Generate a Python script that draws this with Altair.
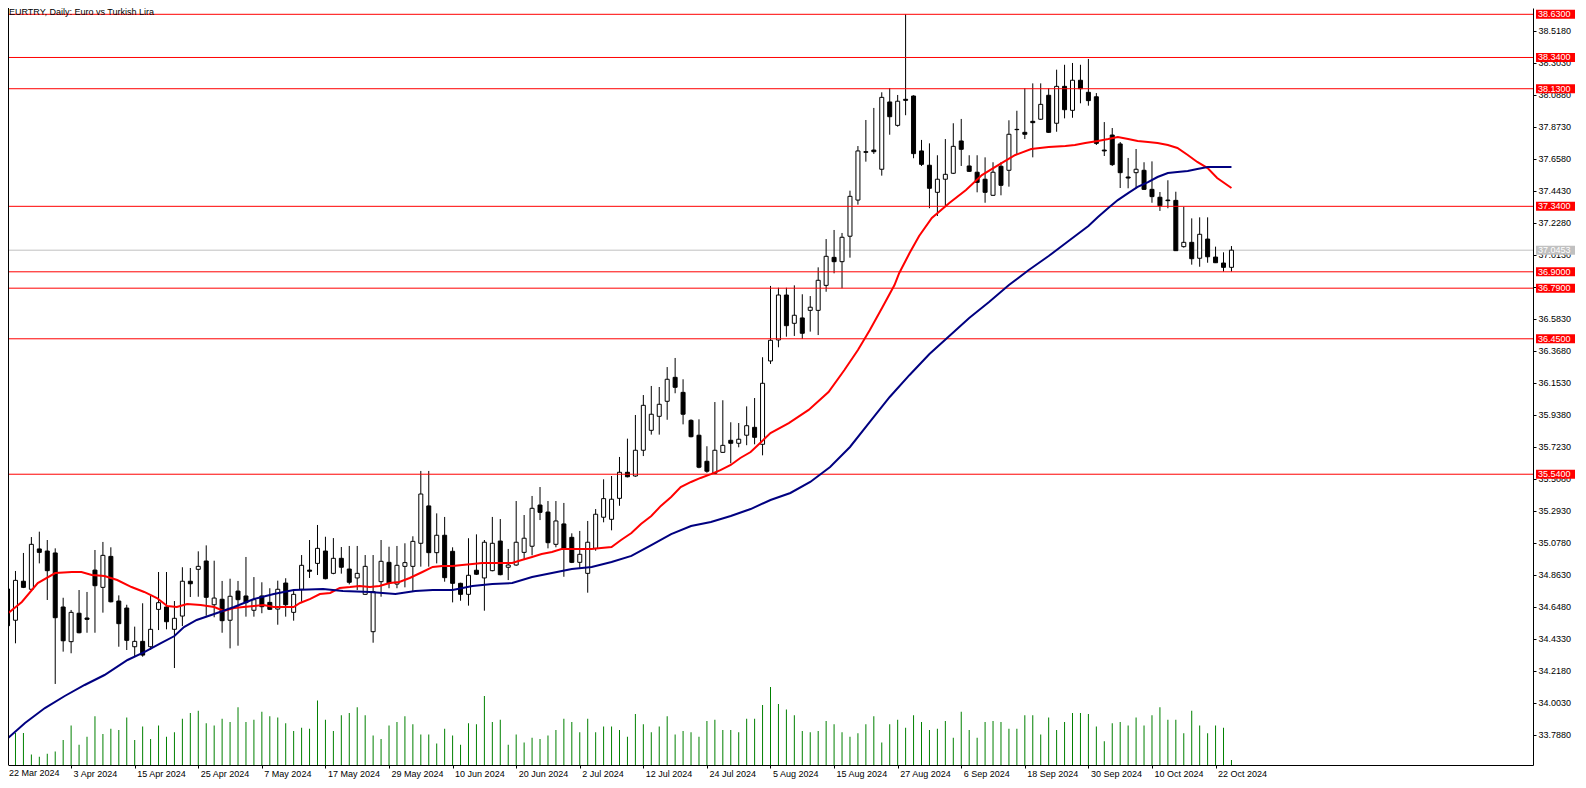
import altair as alt
import pandas as pd

symbol_title = "EURTRY, Daily:  Euro vs Turkish Lira"

date_labels = ["22 Mar 2024", "3 Apr 2024", "15 Apr 2024", "25 Apr 2024", "7 May 2024",
               "17 May 2024", "29 May 2024", "10 Jun 2024", "20 Jun 2024", "2 Jul 2024",
               "12 Jul 2024", "24 Jul 2024", "5 Aug 2024", "15 Aug 2024", "27 Aug 2024",
               "6 Sep 2024", "18 Sep 2024", "30 Sep 2024", "10 Oct 2024", "22 Oct 2024"]
date_bars = [0, 8, 16, 24, 32, 40, 48, 56, 64, 72, 80, 88, 96, 104, 112, 120, 128, 136, 144, 152]

opens = [34.769, 34.559, 34.821, 34.767, 35.038, 35.024, 35.011, 34.648, 34.415, 34.606,
         34.574, 34.896, 34.780, 34.988, 34.688, 34.641, 34.381, 34.417, 34.381, 34.632,
         34.648, 34.498, 34.587, 34.821, 34.901, 34.957, 34.663, 34.700, 34.559, 34.755,
         34.722, 34.626, 34.722, 34.679, 34.634, 34.809, 34.612, 34.767, 34.896, 34.941,
         35.024, 34.874, 34.975, 34.903, 34.843, 34.733, 34.482, 34.818, 34.948, 34.802,
         34.921, 34.921, 35.076, 35.327, 35.013, 35.130, 35.022, 34.807, 34.733, 34.895,
         34.843, 34.892, 35.091, 34.915, 34.930, 35.015, 35.056, 35.333, 35.286, 35.069,
         35.206, 35.116, 34.948, 34.874, 35.042, 35.251, 35.237, 35.378, 35.553, 35.528,
         35.701, 35.835, 35.929, 36.030, 36.191, 36.090, 35.902, 35.802, 35.627, 35.546,
         35.687, 35.768, 35.748, 35.802, 35.855, 35.741, 36.301, 36.442, 36.744, 36.554,
         36.590, 36.641, 36.641, 36.809, 36.997, 36.968, 37.139, 37.382, 37.707, 37.718,
         37.589, 38.041, 37.884, 38.059, 38.081, 37.712, 37.616, 37.434, 37.522, 37.562,
         37.779, 37.611, 37.569, 37.522, 37.414, 37.609, 37.582, 37.857, 37.837, 37.911,
         37.925, 38.086, 37.898, 38.146, 37.985, 38.187, 38.106, 38.076, 37.718, 37.819,
         37.759, 37.537, 37.566, 37.582, 37.454, 37.401, 37.382, 37.380, 37.069, 37.098,
         36.991, 37.120, 36.999, 36.959, 36.930]
highs = [34.784, 34.890, 35.011, 35.118, 35.154, 35.098, 35.042, 34.710, 34.628, 34.762,
         34.749, 35.031, 35.085, 35.049, 34.726, 34.663, 34.516, 34.673, 34.724, 34.883,
         34.883, 34.688, 34.915, 34.910, 35.022, 35.062, 34.959, 34.823, 34.838, 34.823,
         34.984, 34.849, 34.814, 34.774, 34.825, 34.841, 34.755, 34.997, 35.098, 35.199,
         35.120, 35.111, 35.051, 35.058, 35.058, 34.997, 34.997, 35.098, 35.053, 35.058,
         35.076, 35.123, 35.562, 35.562, 35.277, 35.253, 35.049, 34.811, 35.110, 35.136,
         35.098, 35.253, 35.239, 35.038, 35.360, 35.266, 35.394, 35.454, 35.360, 35.360,
         35.347, 35.143, 35.159, 35.226, 35.306, 35.506, 35.528, 35.656, 35.779, 35.938,
         36.072, 36.133, 36.126, 36.260, 36.321, 36.178, 35.909, 35.909, 35.728, 36.025,
         36.037, 35.889, 35.884, 35.996, 36.052, 36.326, 36.805, 36.793, 36.793, 36.809,
         36.749, 36.737, 36.930, 37.120, 37.181, 37.161, 37.445, 37.745, 37.920, 38.001,
         38.106, 38.135, 38.088, 38.630, 38.086, 37.786, 37.763, 37.683, 37.792, 37.898,
         37.927, 37.683, 37.683, 37.669, 37.636, 37.636, 37.918, 37.982, 38.133, 38.166,
         38.166, 38.133, 38.258, 38.291, 38.303, 38.291, 38.330, 38.101, 37.906, 37.866,
         37.772, 37.665, 37.725, 37.636, 37.642, 37.436, 37.515, 37.438, 37.337, 37.259,
         37.266, 37.266, 37.069, 37.031, 37.073]
lows = [34.507, 34.404, 34.775, 34.762, 34.941, 34.695, 34.131, 34.348, 34.337, 34.471,
        34.475, 34.475, 34.610, 34.679, 34.381, 34.359, 34.314, 34.314, 34.359, 34.493,
        34.498, 34.238, 34.520, 34.715, 34.717, 34.589, 34.579, 34.475, 34.370, 34.388,
        34.583, 34.583, 34.606, 34.628, 34.529, 34.583, 34.556, 34.683, 34.843, 34.863,
        34.834, 34.868, 34.872, 34.800, 34.762, 34.730, 34.408, 34.717, 34.774, 34.774,
        34.780, 34.755, 34.919, 34.919, 34.941, 34.818, 34.679, 34.690, 34.657, 34.863,
        34.623, 34.888, 34.861, 34.829, 34.925, 34.964, 34.995, 35.232, 35.042, 35.049,
        34.851, 34.943, 34.910, 34.744, 35.026, 35.217, 35.163, 35.328, 35.519, 35.523,
        35.662, 35.806, 35.806, 35.906, 36.084, 35.875, 35.788, 35.580, 35.550, 35.542,
        35.684, 35.613, 35.721, 35.735, 35.741, 35.667, 36.281, 36.393, 36.464, 36.469,
        36.449, 36.498, 36.475, 36.766, 36.890, 36.789, 36.995, 37.351, 37.640, 37.692,
        37.546, 37.821, 37.875, 37.952, 37.663, 37.611, 37.327, 37.275, 37.337, 37.557,
        37.611, 37.571, 37.434, 37.364, 37.410, 37.414, 37.472, 37.692, 37.792, 37.669,
        37.920, 37.833, 37.841, 37.931, 37.935, 38.032, 38.016, 37.752, 37.678, 37.611,
        37.463, 37.461, 37.461, 37.450, 37.364, 37.309, 37.327, 37.040, 37.062, 36.948,
        36.934, 36.961, 36.959, 36.901, 36.901]
closes = [34.522, 34.827, 34.780, 35.069, 35.015, 34.892, 34.576, 34.421, 34.612, 34.475,
          34.565, 34.791, 34.995, 34.683, 34.536, 34.424, 34.417, 34.325, 34.498, 34.677,
          34.549, 34.572, 34.821, 34.804, 34.921, 34.713, 34.708, 34.556, 34.720, 34.697,
          34.677, 34.697, 34.650, 34.632, 34.767, 34.663, 34.733, 34.928, 34.888, 35.042,
          34.838, 34.975, 34.915, 34.814, 34.874, 34.921, 34.751, 34.955, 34.807, 34.928,
          34.946, 35.089, 35.407, 35.013, 35.130, 34.845, 34.807, 34.733, 34.861, 34.868,
          35.083, 35.076, 34.865, 34.930, 35.083, 35.110, 35.311, 35.284, 35.080, 35.226,
          35.038, 34.948, 35.002, 35.083, 35.271, 35.376, 35.372, 35.553, 35.523, 35.701,
          36.003, 35.943, 36.010, 36.178, 36.124, 35.943, 35.792, 35.587, 35.560, 35.701,
          35.734, 35.748, 35.775, 35.866, 35.788, 36.151, 36.440, 36.744, 36.538, 36.608,
          36.487, 36.662, 36.843, 37.004, 36.968, 37.132, 37.407, 37.712, 37.703, 37.707,
          38.072, 37.942, 38.046, 38.052, 37.694, 37.622, 37.461, 37.522, 37.555, 37.743,
          37.723, 37.575, 37.501, 37.434, 37.569, 37.481, 37.824, 37.855, 37.824, 37.902,
          38.025, 37.837, 38.146, 37.989, 38.187, 38.130, 38.050, 37.763, 37.712, 37.620,
          37.566, 37.530, 37.589, 37.454, 37.405, 37.344, 37.378, 37.042, 37.098, 36.988,
          37.152, 37.001, 36.961, 36.930, 37.0453]
volumes = [2400, 3400, 3400, 1120, 880, 1200, 1440, 2640, 4200, 2160,
           3000, 5160, 3280, 3840, 3720, 5040, 2640, 4080, 2760, 4200,
           3000, 3480, 4920, 5520, 5760, 4440, 4200, 4920, 4560, 6120,
           4560, 4800, 5640, 5160, 5040, 4440, 3600, 3960, 3840, 6840,
           4800, 3600, 5280, 5520, 6120, 5280, 3120, 2760, 4200, 4560,
           5160, 4320, 3240, 3240, 2280, 3840, 3120, 2160, 4440, 4320,
           7320, 4560, 4800, 2160, 3240, 2400, 2880, 2760, 3120, 3720,
           4920, 4560, 3480, 4920, 3480, 4080, 4080, 3720, 3000, 5400,
           4320, 3480, 4080, 5160, 3240, 3600, 3480, 3000, 4680, 4800,
           3720, 3720, 3480, 4920, 4920, 6360, 8280, 6480, 5880, 5280,
           3600, 3480, 3600, 4680, 4320, 3480, 3000, 3360, 4320, 5160,
           2400, 4320, 4800, 3960, 5280, 4560, 3720, 3840, 4680, 2880,
           5640, 3720, 2880, 4560, 4680, 4560, 3840, 3840, 5280, 5280,
           3240, 5040, 3720, 4560, 5520, 5520, 5400, 4080, 2520, 4440,
           4560, 4200, 5040, 4200, 5280, 6120, 4800, 4800, 3360, 5760,
           4200, 3360, 4200, 3960, 520]

# moving averages: (bar index, value)
ma_fast = [(0.1, 34.608), (1.8, 34.682), (3.8, 34.809), (6.0, 34.876), (8.1, 34.883), (9.3, 34.883),
           (10.6, 34.863), (12.2, 34.856), (13.8, 34.829), (15.6, 34.782), (17.2, 34.749), (18.8, 34.708),
           (20.1, 34.655), (21.3, 34.648), (22.6, 34.668), (24.3, 34.661), (26.0, 34.648), (27.2, 34.621),
           (28.5, 34.641), (29.7, 34.648), (31.0, 34.655), (32.2, 34.661), (33.5, 34.648), (34.7, 34.648),
           (36.0, 34.648), (36.8, 34.675), (38.1, 34.702), (39.3, 34.735), (40.6, 34.742), (41.8, 34.776),
           (43.1, 34.782), (44.3, 34.789), (45.6, 34.782), (46.8, 34.789), (48.1, 34.809), (49.3, 34.816),
           (50.6, 34.843), (52.2, 34.883), (53.5, 34.917), (54.7, 34.923), (56.0, 34.923), (57.2, 34.930),
           (58.5, 34.937), (59.7, 34.944), (61.0, 34.944), (62.2, 34.944), (63.5, 34.944), (64.7, 34.964),
           (66.0, 34.984), (67.2, 35.004), (68.5, 35.017), (69.7, 35.038), (71.0, 35.038), (72.2, 35.038),
           (73.5, 35.038), (74.7, 35.044), (76.0, 35.051), (77.2, 35.098), (78.5, 35.145), (79.7, 35.206),
           (81.0, 35.259), (82.2, 35.327), (83.5, 35.387), (84.7, 35.454), (86.0, 35.488), (87.2, 35.515),
           (88.5, 35.541), (89.7, 35.568), (91.0, 35.602), (92.2, 35.649), (93.5, 35.689), (94.7, 35.750),
           (96.0, 35.817), (98.3, 35.884), (100.8, 35.972), (103.3, 36.092), (105.3, 36.240), (107.0, 36.375),
           (108.5, 36.509), (110.1, 36.664), (111.6, 36.811), (112.2, 36.892), (113.5, 37.026), (114.7, 37.141),
           (116.3, 37.262), (118.5, 37.362), (120.6, 37.450), (122.6, 37.550), (124.7, 37.618), (126.8, 37.685),
           (128.8, 37.725), (131.0, 37.739), (133.1, 37.745), (134.3, 37.752), (135.6, 37.765), (137.2, 37.779),
           (138.5, 37.792), (139.7, 37.806), (141.0, 37.792), (142.2, 37.779), (143.5, 37.772), (144.7, 37.765),
           (146.0, 37.752), (147.2, 37.732), (148.5, 37.685), (149.7, 37.638), (151.0, 37.597), (152.2, 37.530),
           (154.0, 37.463)]
ma_slow = [(0.0, 33.765), (2.2, 33.869), (4.7, 33.969), (7.2, 34.050), (9.7, 34.124), (12.2, 34.191),
           (15.1, 34.292), (17.2, 34.345), (19.3, 34.406), (21.0, 34.453), (22.2, 34.513), (23.8, 34.561),
           (26.0, 34.601), (28.5, 34.648), (31.0, 34.702), (33.5, 34.735), (36.0, 34.762), (39.7, 34.769),
           (42.2, 34.755), (45.6, 34.749), (48.8, 34.735), (51.3, 34.755), (53.5, 34.762), (56.0, 34.762),
           (58.5, 34.789), (61.0, 34.802), (63.5, 34.809), (66.0, 34.849), (68.5, 34.876), (71.0, 34.903),
           (73.5, 34.917), (76.0, 34.950), (78.5, 34.991), (81.0, 35.064), (83.5, 35.138), (86.0, 35.192),
           (88.5, 35.219), (91.0, 35.259), (93.5, 35.306), (96.0, 35.367), (98.5, 35.414), (101.0, 35.488),
           (103.5, 35.589), (106.0, 35.723), (108.5, 35.891), (111.0, 36.059), (113.5, 36.207), (116.0, 36.348),
           (118.5, 36.469), (121.0, 36.590), (123.5, 36.697), (126.0, 36.811), (128.5, 36.912), (131.0, 37.006),
           (133.5, 37.107), (136.0, 37.208), (137.2, 37.268), (138.5, 37.329), (139.7, 37.382), (141.0, 37.429),
           (142.2, 37.470), (143.5, 37.503), (144.7, 37.537), (146.0, 37.564), (147.2, 37.571), (148.5, 37.577),
           (149.7, 37.591), (151.0, 37.604), (152.2, 37.604), (154.0, 37.604)]

levels = [38.63, 38.34, 38.13, 37.34, 36.90, 36.79, 36.45, 35.54]
last_price = 37.0453
price_ticks = [33.788, 34.003, 34.218, 34.433, 34.648, 34.863, 35.078, 35.293, 35.508, 35.723,
               35.938, 36.153, 36.368, 36.583, 36.798, 37.013, 37.228, 37.443, 37.658, 37.873,
               38.088, 38.303, 38.518]

n = len(opens)
assert all(len(a) == n for a in (highs, lows, closes, volumes))

W, H = 1525, 757
X_DOMAIN = [0.6875, 191.3125]
Y_DOMAIN = [33.5864, 38.6724]
VOL_DOMAIN = [0, 80318]
FONT = "Liberation Sans"
BOX_HALF = 0.0302

bars = pd.DataFrame({"bar": list(range(n)), "open": opens, "high": highs,
                     "low": lows, "close": closes, "volume": volumes})
fast_df = pd.DataFrame(ma_fast, columns=["bar", "ma"])
slow_df = pd.DataFrame(ma_slow, columns=["bar", "ma"])
lvl_df = pd.DataFrame({"level": levels})
last_df = pd.DataFrame({"level": [last_price]})

x_scale = alt.Scale(domain=X_DOMAIN, nice=False, zero=False)
y_scale = alt.Scale(domain=Y_DOMAIN, nice=False, zero=False)

label_expr = ("[" + ",".join("'%s'" % d for d in date_labels) + "][indexof(["
              + ",".join(str(b) for b in date_bars) + "], datum.value)]")
x_axis = alt.Axis(values=date_bars[1:], labelExpr=label_expr, title=None, grid=False,
                  orient="bottom", tickSize=3, tickColor="black", domainColor="black",
                  labelColor="black", labelFont=FONT, labelFontSize=9, labelAlign="left",
                  labelBaseline="top", labelPadding=1, labelOffset=2,
                  labelOverlap=False, labelFlush=False)
y_axis = alt.Axis(values=price_ticks, format=".4f", orient="right", title=None, grid=False,
                  tickSize=3, tickColor="black", domainColor="black", labelColor="black",
                  labelFont=FONT, labelFontSize=9, labelPadding=2,
                  labelOverlap=False, labelFlush=False)

X = alt.X("bar:Q", scale=x_scale, axis=x_axis)

volume = alt.Chart(bars).mark_bar(size=1, color="#008000", clip=True).encode(
    x=X, y=alt.Y("volume:Q", scale=alt.Scale(domain=VOL_DOMAIN, nice=False), axis=None))

level_rules = alt.Chart(lvl_df).mark_rule(color="#FF0000", strokeWidth=1).encode(
    y=alt.Y("level:Q", scale=y_scale, axis=y_axis), x=alt.value(0), x2=alt.value(W))

last_rule = alt.Chart(last_df).mark_rule(color="#C0C0C0", strokeWidth=1).encode(
    y=alt.Y("level:Q", scale=y_scale, axis=None), x=alt.value(0), x2=alt.value(W))

wicks = alt.Chart(bars).mark_rule(color="black", strokeWidth=1, clip=True).encode(
    x=X, y=alt.Y("low:Q", scale=y_scale, axis=None), y2="high:Q")

bodies = alt.Chart(bars).mark_bar(size=4, stroke="black", strokeWidth=1, clip=True).encode(
    x=X, y=alt.Y("open:Q", scale=y_scale, axis=None), y2="close:Q",
    fill=alt.condition("datum.close >= datum.open", alt.value("white"), alt.value("black")))

fast = alt.Chart(fast_df).mark_line(color="#FF0000", strokeWidth=2, clip=True).encode(
    x=X, y=alt.Y("ma:Q", scale=y_scale, axis=None))
slow = alt.Chart(slow_df).mark_line(color="#000080", strokeWidth=2, clip=True).encode(
    x=X, y=alt.Y("ma:Q", scale=y_scale, axis=None))


def price_box(df, fill):
    box = alt.Chart(df).transform_calculate(
        top="datum.level + %f" % BOX_HALF, bottom="datum.level - %f" % BOX_HALF
    ).mark_rect(color=fill).encode(
        y=alt.Y("top:Q", scale=y_scale, axis=None), y2="bottom:Q",
        x=alt.value(W + 3), x2=alt.value(W + 42))
    txt = alt.Chart(df).mark_text(align="left", baseline="middle", color="white",
                                  font=FONT, fontSize=9).encode(
        y=alt.Y("level:Q", scale=y_scale, axis=None), x=alt.value(W + 5),
        text=alt.Text("level:Q", format=".4f"))
    return box, txt


lvl_box, lvl_txt = price_box(lvl_df, "#FF0000")
last_box, last_txt = price_box(last_df, "#C0C0C0")

title = alt.Chart(pd.DataFrame({"t": [symbol_title]})).mark_text(
    align="left", baseline="top", font=FONT, fontSize=9, color="black").encode(
    x=alt.value(1), y=alt.value(0), text="t:N")

first_label = alt.Chart(pd.DataFrame({"t": [date_labels[0]]})).mark_text(
    align="left", baseline="top", font=FONT, fontSize=9, color="black").encode(
    x=alt.value(1), y=alt.value(H + 4), text="t:N")

border = alt.Chart(pd.DataFrame({"a": [0]})).mark_rule(color="black", strokeWidth=1).encode(
    x=alt.value(0.5), y=alt.value(0), y2=alt.value(H))

chart = alt.layer(
    volume, last_rule, wicks, bodies, level_rules, fast, slow,
    lvl_box, lvl_txt, last_box, last_txt, title, first_label, border
).resolve_scale(y="independent").properties(
    width=W, height=H,
    autosize=alt.AutoSizeParams(type="none"),
    padding={"left": 0, "top": 0, "right": 45, "bottom": 15},
    background="white",
).configure_view(stroke=None)

chart.save("out.html", embed_options={"renderer": "svg", "actions": False})
